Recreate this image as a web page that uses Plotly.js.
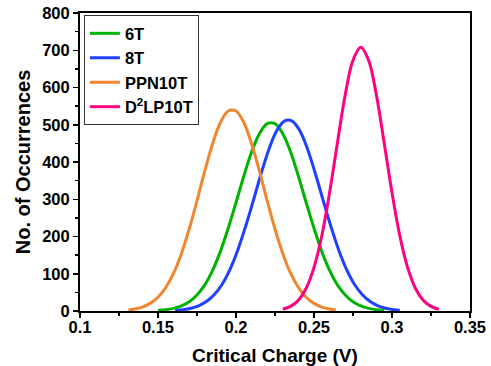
<!DOCTYPE html>
<html>
<head>
<meta charset="utf-8">
<script src="https://cdn.plot.ly/plotly-3.0.1.min.js"></script>
<style>html,body{margin:0;padding:0;background:#fff;}#chart{width:491px;height:366px;}</style>
</head>
<body>
<div id="chart"></div>
<script>
// Read-off values (x in V, y = occurrences)
const x6T = [0.150,0.155,0.160,0.165,0.170,0.175,0.180,0.185,0.190,0.195,0.200,0.205,0.210,0.215,0.220,0.225,0.230,0.235,0.240,0.245,0.250,0.255,0.260,0.265,0.270,0.275,0.280,0.285,0.290,0.295];
const y6T = [1.6,3.5,7.1,13.7,25,43,70,109,160,222,291,362,427,476,503,503,476,427,362,291,222,160,109,70,43,25,13.7,7.1,3.5,1.6];

const x8T = [0.161,0.166,0.171,0.176,0.181,0.186,0.191,0.196,0.201,0.206,0.211,0.216,0.221,0.226,0.231,0.236,0.241,0.246,0.251,0.256,0.261,0.266,0.271,0.276,0.281,0.286,0.291,0.296,0.301,0.305];
const y8T = [1.6,3.5,7.2,13.9,25.3,43.6,71,110.5,162,225,295,367,433,483,510,510,483,433,367,295,225,162,110.5,71,43.6,25.3,13.9,7.2,3.5,1.8];

const xPPN = [0.131,0.135,0.140,0.145,0.150,0.155,0.160,0.165,0.170,0.175,0.180,0.185,0.190,0.195,0.200,0.205,0.210,0.215,0.220,0.225,0.230,0.235,0.240,0.245,0.250,0.255,0.260,0.264];
const yPPN = [2.8,5.2,10.6,20.4,37,63,101.5,154,220,296,376,449,506,537,537,506,449,376,296,220,154,101.5,63,37,20.4,10.6,5.2,2.8];

const xD2 = [0.230,0.235,0.240,0.245,0.250,0.255,0.260,0.265,0.270,0.275,0.280,0.285,0.290,0.295,0.300,0.305,0.310,0.315,0.320,0.325,0.330];
const yD2 = [4.7,12.3,28.7,61,117,202,318,451,580,673,708,673,580,451,318,202,117,61,28.7,12.3,4.7];

const names = ['6T','8T','PPN10T','D<sup>2</sup>LP10T'];
const colors = ['#00b300','#2040ff','#f0872e','#ff0080'];
const xs = [x6T, x8T, xPPN, xD2];
const ys = [y6T, y8T, yPPN, yD2];

const xTicks = [0.1,0.15,0.2,0.25,0.3,0.35];
const xTickText = ['0.1','0.15','0.2','0.25','0.3','0.35'];
const yTicks = [0,100,200,300,400,500,600,700,800];
const yTickText = ['0','100','200','300','400','500','600','700','800'];

const FONT = 'Liberation Sans, Arial, sans-serif';
const b = s => '<b>' + s + '</b>';

const traces = names.map((n,i)=>({
  x: xs[i], y: ys[i], name: b(n), type:'scatter', mode:'lines',
  line:{color:colors[i], width:3, shape:'spline', smoothing:1}
}));

const layout = {
  width:491, height:366,
  margin:{l:80, r:20.5, t:13, b:55},
  paper_bgcolor:'#fff', plot_bgcolor:'#fff',
  font:{family:FONT, color:'#000', size:16},
  showlegend:true,
  legend:{x:0.01, y:0.993, xanchor:'left', yanchor:'top',
    bgcolor:'#fff', bordercolor:'#333', borderwidth:1,
    font:{family:FONT, size:16.5, color:'#000'},
    tracegroupgap:0, itemwidth:30},
  xaxis:{range:[0.1,0.35], tickvals:xTicks, ticktext:xTickText.map(b),
    showline:true, linecolor:'#000', linewidth:2, mirror:true,
    ticks:'outside', ticklen:5, tickwidth:1.5, tickcolor:'#000',
    minor:{dtick:0.025, tick0:0.1, ticks:'outside', ticklen:3, tickwidth:1.5, tickcolor:'#000'},
    showgrid:false, zeroline:false, automargin:false, ticklabelstandoff:-5,
    tickfont:{family:FONT, size:16.5},
    title:{text:b('Critical Charge (V)'), font:{family:FONT, size:19}, standoff:14}},
  yaxis:{range:[0,800], tickvals:yTicks, ticktext:yTickText.map(b),
    showline:true, linecolor:'#000', linewidth:2, mirror:true,
    ticks:'outside', ticklen:5, tickwidth:1.5, tickcolor:'#000',
    minor:{dtick:50, tick0:0, ticks:'outside', ticklen:3, tickwidth:1.5, tickcolor:'#000'},
    showgrid:false, zeroline:false, automargin:false,
    tickfont:{family:FONT, size:16.5},
    title:{text:b('No. of Occurrences'), font:{family:FONT, size:20}, standoff:6}}
};

Plotly.newPlot('chart', traces, layout, {displayModeBar:false, staticPlot:true});
</script>
</body>
</html>
